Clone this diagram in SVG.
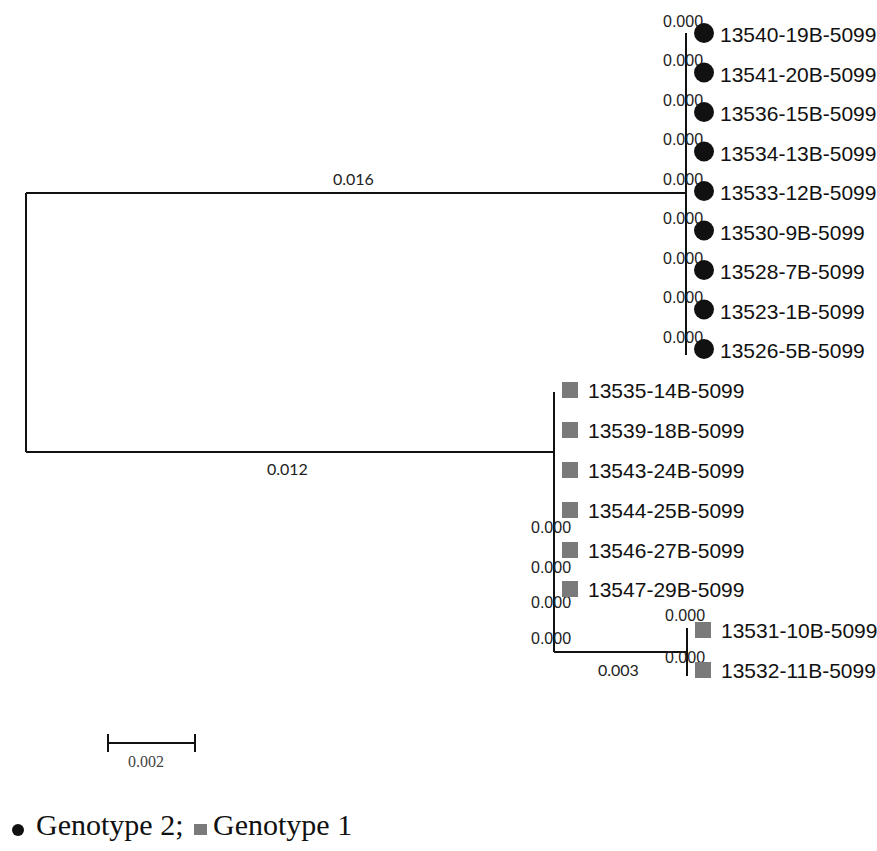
<svg xmlns="http://www.w3.org/2000/svg" width="877" height="851" viewBox="0 0 877 851">
<style>
.ln{stroke:#111;stroke-width:2;fill:none}
.lab{font-family:"Liberation Sans",Arial,sans-serif;font-size:21px;fill:#111}
.bl{font-family:"Liberation Sans",Arial,sans-serif;font-size:16px;fill:#222}
.bl2{font-family:Lato,"Open Sans",sans-serif;font-size:16px;fill:#222}
.ser{font-family:"Liberation Serif","Times New Roman",serif}
.dot{fill:#111}
.sq{fill:#7a7a7a}
</style>
<rect width="877" height="851" fill="#fff"/>
<g id="connectors">
<path class="ln" d="M686,33V355"/>
<path class="ln" d="M26,193H686"/>
<path class="ln" d="M26,193V452"/>
<path class="ln" d="M26,452H554"/>
<path class="ln" d="M554,392V652"/>
<path class="ln" d="M554,652H687"/>
<path class="ln" d="M687,628V676"/>
</g>
<g id="branch-labels">
<text class="bl2" x="333" y="185">0.016</text>
<text class="bl2" x="267" y="475">0.012</text>
<text class="bl2" x="598" y="676">0.003</text>
<text class="bl" x="663" y="27">0.000</text>
<text class="bl" x="663" y="66">0.000</text>
<text class="bl" x="663" y="106">0.000</text>
<text class="bl" x="663" y="145">0.000</text>
<text class="bl" x="663" y="185">0.000</text>
<text class="bl" x="663" y="224">0.000</text>
<text class="bl" x="663" y="264">0.000</text>
<text class="bl" x="663" y="303">0.000</text>
<text class="bl" x="663" y="343">0.000</text>
<text class="bl" x="531" y="533">0.000</text>
<text class="bl" x="531" y="573">0.000</text>
<text class="bl" x="531" y="608">0.000</text>
<text class="bl" x="531" y="644">0.000</text>
<text class="bl" x="665" y="621">0.000</text>
<text class="bl" x="665" y="663">0.000</text>
</g>
<g id="n13540"><circle class="dot" cx="704" cy="33" r="10"/><text class="lab" x="720" y="42">13540-19B-5099</text></g>
<g id="n13541"><circle class="dot" cx="704" cy="72.5" r="10"/><text class="lab" x="720" y="81.5">13541-20B-5099</text></g>
<g id="n13536"><circle class="dot" cx="704" cy="112" r="10"/><text class="lab" x="720" y="121">13536-15B-5099</text></g>
<g id="n13534"><circle class="dot" cx="704" cy="151.5" r="10"/><text class="lab" x="720" y="160.5">13534-13B-5099</text></g>
<g id="n13533"><circle class="dot" cx="704" cy="191" r="10"/><text class="lab" x="720" y="200">13533-12B-5099</text></g>
<g id="n13530"><circle class="dot" cx="704" cy="230.5" r="10"/><text class="lab" x="720" y="239.5">13530-9B-5099</text></g>
<g id="n13528"><circle class="dot" cx="704" cy="270" r="10"/><text class="lab" x="720" y="279">13528-7B-5099</text></g>
<g id="n13523"><circle class="dot" cx="704" cy="309.5" r="10"/><text class="lab" x="720" y="318.5">13523-1B-5099</text></g>
<g id="n13526"><circle class="dot" cx="704" cy="349" r="10"/><text class="lab" x="720" y="358">13526-5B-5099</text></g>
<g id="n13535"><rect class="sq" x="562" y="382" width="16" height="16"/><text class="lab" x="588" y="398">13535-14B-5099</text></g>
<g id="n13539"><rect class="sq" x="562" y="422" width="16" height="16"/><text class="lab" x="588" y="438">13539-18B-5099</text></g>
<g id="n13543"><rect class="sq" x="562" y="462" width="16" height="16"/><text class="lab" x="588" y="478">13543-24B-5099</text></g>
<g id="n13544"><rect class="sq" x="562" y="502" width="16" height="16"/><text class="lab" x="588" y="518">13544-25B-5099</text></g>
<g id="n13546"><rect class="sq" x="562" y="542" width="16" height="16"/><text class="lab" x="588" y="558">13546-27B-5099</text></g>
<g id="n13547"><rect class="sq" x="562" y="581" width="16" height="16"/><text class="lab" x="588" y="597">13547-29B-5099</text></g>
<g id="n13531"><rect class="sq" x="695" y="622" width="16" height="16"/><text class="lab" x="721" y="638">13531-10B-5099</text></g>
<g id="n13532"><rect class="sq" x="695" y="662" width="16" height="16"/><text class="lab" x="721" y="678">13532-11B-5099</text></g>
<g id="scale-bar">
<path class="ln" d="M108,743H195M108,734V752M195,734V752"/>
<text class="ser" x="128" y="767" font-size="16" fill="#444">0.002</text>
</g>
<g id="legend">
<circle class="dot" cx="18" cy="830" r="6"/>
<text class="ser" x="36" y="835" font-size="30" fill="#111">Genotype 2;</text>
<rect class="sq" x="194" y="824" width="13" height="11"/>
<text class="ser" x="213" y="835" font-size="30" fill="#111">Genotype 1</text>
</g>
</svg>
